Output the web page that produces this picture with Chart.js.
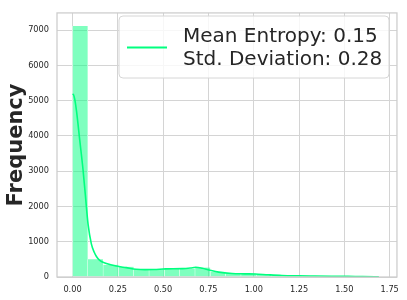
<!DOCTYPE html>
<html>
<head>
<meta charset="utf-8">
<script src="https://cdn.jsdelivr.net/npm/chart.js@4.4.0/dist/chart.umd.min.js"></script>
<style>
html,body{margin:0;padding:0;background:#fff;}
#wrap{width:407px;height:300px;position:relative;}
</style>
</head>
<body>
<div id="wrap"><canvas id="c" width="407" height="300"></canvas></div>
<script>
// Histogram bins (entropy), 20 bins
const binStart = 0.0;
const binWidth = 0.0845;
const binCounts = [7120, 505, 345, 290, 225, 200, 230, 235, 270, 150, 115, 95, 75, 55, 40, 30, 22, 15, 10, 5];
// KDE curve (scaled to counts)
const kdeX = [0.000,0.004,0.012,0.022,0.040,0.058,0.071,0.086,0.104,0.120,0.132,0.150,0.187,0.241,0.296,0.351,0.400,0.450,0.515,0.606,0.650,0.680,0.716,0.753,0.807,0.880,0.950,1.008,1.080,1.155,1.250,1.337,1.430,1.520,1.600,1.690];
const kdeY = [5170,5185,5050,4710,3880,3050,2320,1490,940,700,580,470,385,310,265,220,208,212,230,237,255,276,248,200,138,100,90,83,62,44,34,28,22,17,12,7];
const xTicks = [0, 0.25, 0.5, 0.75, 1.0, 1.25, 1.5, 1.75];
const yTicks = [0, 1000, 2000, 3000, 4000, 5000, 6000, 7000];
const legendLines = ["Mean Entropy: 0.15", "Std. Deviation: 0.28"];
const yTitle = "Frequency";

const GREEN = '#00FF7F';
const barData = binCounts.map((v, i) => ({x: binStart + binWidth * (i + 0.5), y: v}));
const kdeData = kdeX.map((x, i) => ({x: x, y: kdeY[i]}));

const legendPlugin = {
  id: 'customLegend',
  afterDraw(chart) {
    const ctx = chart.ctx;
    ctx.save();
    const x = 119, y = 16, w = 270, h = 62, r = 4;
    ctx.beginPath();
    ctx.moveTo(x + r, y);
    ctx.arcTo(x + w, y, x + w, y + h, r);
    ctx.arcTo(x + w, y + h, x, y + h, r);
    ctx.arcTo(x, y + h, x, y, r);
    ctx.arcTo(x, y, x + w, y, r);
    ctx.closePath();
    ctx.fillStyle = 'rgba(255,255,255,0.8)';
    ctx.fill();
    ctx.strokeStyle = '#d6d6d6';
    ctx.lineWidth = 1;
    ctx.stroke();
    ctx.strokeStyle = GREEN;
    ctx.lineWidth = 2;
    ctx.beginPath();
    ctx.moveTo(127, 47.5);
    ctx.lineTo(167, 47.5);
    ctx.stroke();
    ctx.fillStyle = '#262626';
    ctx.font = '20px "DejaVu Sans"';
    ctx.textBaseline = 'alphabetic';
    ctx.textAlign = 'left';
    ctx.fillText(legendLines[0], 183, 41.7);
    ctx.fillText(legendLines[1], 183, 65);
    ctx.restore();
  }
};

const spinePlugin = {
  id: 'spines',
  afterDatasetsDraw(chart) {
    const {ctx, chartArea: a} = chart;
    ctx.save();
    ctx.strokeStyle = '#cccccc';
    ctx.lineWidth = 1.25;
    ctx.strokeRect(a.left, a.top, a.right - a.left, a.bottom - a.top);
    ctx.restore();
  }
};

new Chart(document.getElementById('c'), {
  type: 'bar',
  data: {
    datasets: [
      {
        type: 'line',
        data: kdeData,
        borderColor: GREEN,
        borderWidth: 1.6,
        pointRadius: 0,
        fill: false,
        cubicInterpolationMode: 'monotone',
        order: 0
      },
      {
        type: 'bar',
        data: barData,
        backgroundColor: 'rgba(0,255,127,0.5)',
        borderColor: '#ffffff',
        borderWidth: {left: 0.5, right: 0.5, top: 0, bottom: 0},
        barPercentage: 1,
        categoryPercentage: 1,
        grouped: false,
        order: 1
      }
    ]
  },
  options: {
    responsive: false,
    animation: false,
    events: [],
    layout: {padding: {top: 6, right: 8, left: 0, bottom: 0}},
    plugins: {legend: {display: false}, tooltip: {enabled: false}},
    scales: {
      x: {
        type: 'linear',
        offset: false,
        min: -0.0855,
        max: 1.79,
        afterBuildTicks(s) { s.ticks = xTicks.map(v => ({value: v})); },
        afterFit(s) { s.height = 23; },
        grid: {color: '#d4d4d4', lineWidth: 1, tickLength: 0, drawTicks: false, offset: false},
        border: {display: false},
        ticks: {
          color: '#262626',
          font: {family: 'DejaVu Sans', size: 8.2},
          padding: 8,
          maxRotation: 0,
          autoSkip: false,
          callback: v => Number(v).toFixed(2)
        }
      },
      y: {
        type: 'linear',
        min: 0,
        max: 7490,
        afterBuildTicks(s) { s.ticks = yTicks.map(v => ({value: v})); },
        afterFit(s) { s.width = 57; },
        grid: {color: '#d4d4d4', lineWidth: 1, tickLength: 0, drawTicks: false},
        border: {display: false},
        title: {
          display: true,
          text: yTitle,
          color: '#262626',
          font: {family: 'DejaVu Sans', size: 21, weight: 'bold'},
          padding: {top: 4, bottom: 0}
        },
        ticks: {
          color: '#262626',
          font: {family: 'DejaVu Sans', size: 8.2},
          padding: 8,
          autoSkip: false,
          callback: v => String(v)
        }
      }
    }
  },
  plugins: [spinePlugin, legendPlugin]
});
</script>
</body>
</html>
